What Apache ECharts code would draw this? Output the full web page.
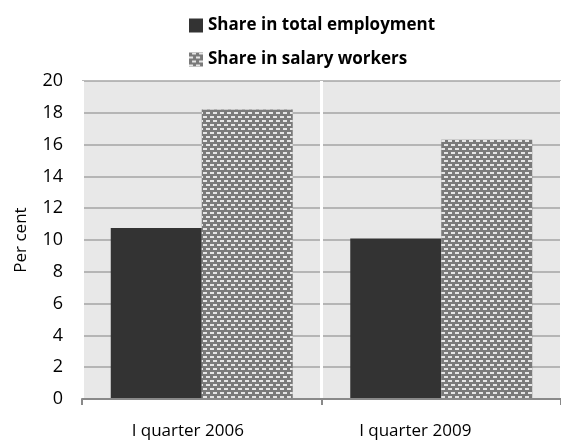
<!DOCTYPE html>
<html><head><meta charset="utf-8">
<script src="https://cdn.jsdelivr.net/npm/echarts@6/dist/echarts.min.js"></script>
<style>html,body{margin:0;padding:0;background:#fff}#c{width:561px;height:444px}</style>
</head><body><div id="c"></div>
<script>
const categories = ['I quarter 2006', 'I quarter 2009'];
const seriesNames = ['Share in total employment', 'Share in salary workers'];
const totalEmployment = [10.75, 10.1];
const salaryWorkers = [18.2, 16.3];
const yTicks = [0, 2, 4, 6, 8, 10, 12, 14, 16, 18, 20];

const FONT = 'Open Sans';
const chart = echarts.init(document.getElementById('c'));
chart.setOption({
  animation: false,
  textStyle: { fontFamily: FONT },
  legend: {
    orient: 'vertical', left: 184, top: 12, itemGap: 17,
    itemWidth: 14, itemHeight: 14,
    textStyle: { fontFamily: FONT, fontWeight: 'bold', fontSize: 17, color: '#000' },
    data: [
      { name: seriesNames[0], icon: 'rect' },
      { name: seriesNames[1], icon: 'rect' }
    ]
  },
  grid: { left: 82, top: 81, width: 486, bottom: 45, show: true, backgroundColor: '#e8e8e8', borderWidth: 0 },
  xAxis: {
    type: 'category', data: categories, z: 3,
    axisLine: { lineStyle: { color: '#898989', width: 2 } },
    axisTick: { show: true, length: 6, lineStyle: { color: '#898989', width: 2 } },
    splitLine: { show: true, lineStyle: { color: '#ffffff', width: 3 } },
    axisLabel: {
      margin: 24, fontSize: 17, color: '#000', fontFamily: FONT,
      formatter: (v, i) => i === 0 ? '{a|' + v + '}' : '{b|' + v + '}',
      rich: {
        a: { padding: [0, 28, 0, 0], fontSize: 17, fontFamily: FONT, color: '#000' },
        b: { padding: [0, 52, 0, 0], fontSize: 17, fontFamily: FONT, color: '#000' }
      }
    }
  },
  yAxis: {
    type: 'value', min: yTicks[0], max: yTicks[yTicks.length - 1], interval: 2,
    name: 'Per cent', nameLocation: 'middle', nameGap: 52, nameRotate: 90,
    nameTextStyle: { fontSize: 17, color: '#000', fontFamily: FONT },
    axisLine: { show: false }, axisTick: { show: false },
    axisLabel: { fontSize: 18, color: '#000', margin: 19, fontFamily: FONT },
    splitLine: { lineStyle: { color: '#a5a5a5', width: 1.5 } }
  },
  series: [
    { name: seriesNames[0], type: 'bar', data: totalEmployment, barWidth: 91, barGap: '0%',
      itemStyle: { color: '#333333' } },
    { name: seriesNames[1], type: 'bar', data: salaryWorkers, barWidth: 91, barGap: '0%',
      itemStyle: { color: '#7a7a7a',
        decal: { symbol: 'rect', symbolSize: 1, color: '#e6e6e6',
          dashArrayX: [[4, 3], [0, 3, 4, 0]], dashArrayY: [2, 2], rotation: 0 } } }
  ]
});
</script></body></html>
